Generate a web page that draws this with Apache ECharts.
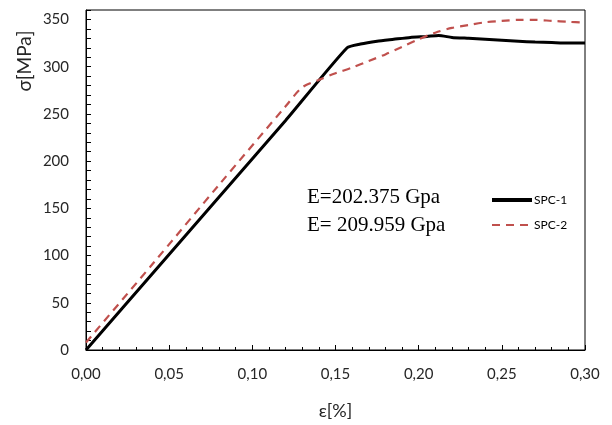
<!DOCTYPE html>
<html><head><meta charset="utf-8">
<script src="https://cdn.jsdelivr.net/npm/echarts@6/dist/echarts.min.js"></script>
<style>html,body{margin:0;padding:0;background:#fff}#c{width:612px;height:425px}</style>
</head><body><div id="c"></div>
<script>
const seriesNames = ['SPC-1', 'SPC-2'];
const spc1Strain = [0.000, 0.040, 0.080, 0.120, 0.157, 0.165, 0.175, 0.185, 0.195, 0.205, 0.212, 0.220, 0.230, 0.240, 0.250, 0.260, 0.270, 0.280, 0.290, 0.300];
const spc1Stress = [0, 81, 162, 243, 320, 324, 327, 329, 331, 332, 333, 331, 330, 329, 328, 327, 326, 325.5, 325, 325];
const spc2Strain = [0.000, 0.040, 0.080, 0.120, 0.130, 0.140, 0.150, 0.160, 0.170, 0.180, 0.190, 0.200, 0.210, 0.220, 0.230, 0.240, 0.250, 0.260, 0.270, 0.280, 0.290, 0.300];
const spc2Stress = [8, 91, 175, 258, 278, 286, 293, 299, 306, 313, 321, 329, 336, 341, 344, 347, 348.5, 349.5, 349.5, 348.5, 347.5, 346.5];
const xTickLabels = ['0,00', '0,05', '0,10', '0,15', '0,20', '0,25', '0,30'];
const yTickLabels = ['0', '50', '100', '150', '200', '250', '300', '350'];
const annotations = ['E=202.375 Gpa', 'E= 209.959 Gpa'];

const chart = echarts.init(document.getElementById('c'), null, {renderer: 'canvas'});
const lab = {fontFamily: 'Lato', fontSize: 15, color: '#262626'};
chart.setOption({
  animation: false,
  grid: {left: 86, right: 27, top: 10, bottom: 66, show: true, borderColor: '#000', borderWidth: 1},
  xAxis: {
    type: 'value', min: 0, max: 0.3, interval: 0.05,
    name: 'ε[%]', nameLocation: 'middle', nameGap: 52,
    nameTextStyle: {fontFamily: 'Lato', fontSize: 18, color: '#262626'},
    axisLine: {lineStyle: {color: '#000', width: 1}},
    axisTick: {inside: true, length: 5, lineStyle: {color: '#000'}},
    minorTick: {show: true, splitNumber: 5, length: 3, lineStyle: {color: '#000'}},
    splitLine: {show: false},
    axisLabel: Object.assign({margin: 17, formatter: (v) => {const i = Math.round(v / 0.05); return xTickLabels[i] || '';}}, lab)
  },
  yAxis: {
    type: 'value', min: 0, max: 360, interval: 50,
    axisLine: {lineStyle: {color: '#000', width: 1}},
    axisTick: {inside: true, length: 5, lineStyle: {color: '#000'}},
    minorTick: {show: true, splitNumber: 5, length: 5, lineStyle: {color: '#000'}},
    splitLine: {show: false},
    axisLabel: Object.assign({margin: 17, showMaxLabel: false, formatter: (v) => {if (v % 50 !== 0) return ''; return yTickLabels[v / 50] || '';}}, lab)
  },
  legend: {
    orient: 'vertical', left: 485, top: 189, itemWidth: 40, itemHeight: 14, itemGap: 13,
    itemStyle: {opacity: 0},
    textStyle: {fontFamily: 'Lato', fontSize: 12, color: '#000', padding: [0, 0, 0, -3]},
    data: [{name: seriesNames[0], lineStyle: {width: 4}}, {name: seriesNames[1]}]
  },
  series: [
    {name: seriesNames[0], type: 'line', symbol: 'none', smooth: 0.2,
     data: spc1Strain.map((x, i) => [x, spc1Stress[i]]),
     lineStyle: {color: '#000', width: 3}, itemStyle: {color: '#000'}},
    {name: seriesNames[1], type: 'line', symbol: 'none', smooth: 0.3,
     data: spc2Strain.map((x, i) => [x, spc2Stress[i]]),
     lineStyle: {color: '#c0504d', width: 2.2, type: [8, 6]}, itemStyle: {color: '#c0504d'}}
  ],
  graphic: [
    {type: 'text', left: 307, top: 187, style: {text: annotations[0], font: '21px "Liberation Serif"', fill: '#000'}},
    {type: 'text', left: 307, top: 215, style: {text: annotations[1], font: '21px "Liberation Serif"', fill: '#000'}},
    {type: 'text', x: 25, y: 61, rotation: Math.PI / 2, style: {text: 'σ[MPa]', font: '19px Lato', fill: '#262626', align: 'center', verticalAlign: 'middle'}}
  ]
});
</script></body></html>
